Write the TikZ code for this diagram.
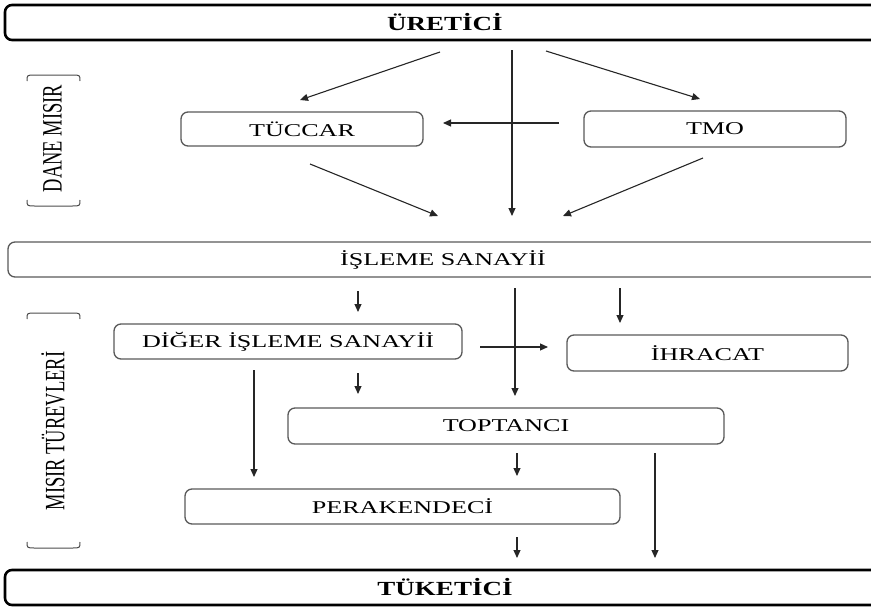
\documentclass[tikz,border=0pt]{standalone}
\usepackage{fontspec}
\setmainfont{Liberation Serif}
\newfontfamily\widefont[FakeStretch=1.45]{Liberation Serif}
\newfontfamily\boldwide[FakeStretch=1.35]{Liberation Serif}
\newfontfamily\narrowfont[FakeStretch=0.66]{Liberation Serif}
\usetikzlibrary{arrows.meta}

\begin{document}
\begin{tikzpicture}
  [x=1pt,y=-1pt,
   box/.style={draw=black!65,line width=1.3pt,rounded corners=7pt,inner sep=0pt,
     font=\widefont\fontsize{18}{20}\selectfont},
   mainbox/.style={box,draw=black,line width=2.6pt,
     font=\boldwide\bfseries\fontsize{20}{22}\selectfont},
   arr/.style={-{Triangle[length=8pt,width=7pt]},line width=1.1pt,draw=black!85},
   brace/.style={draw=black!70,line width=1pt},
   side/.style={rotate=90,inner sep=0pt,font=\narrowfont\fontsize{28}{30}\selectfont}]
  \clip (0,0) rectangle (871,608);

  % kutular
  \node[mainbox,minimum width=880,minimum height=35] (uretici) at (445,22.5)  {ÜRETİCİ};
  \node[box,minimum width=242,minimum height=34]     (tuccar)  at (302,129)   {TÜCCAR};
  \node[box,minimum width=262,minimum height=36]     (tmo)     at (715,129)   {TMO};
  \node[box,minimum width=870,minimum height=35]     (isleme)  at (443,259.5) {İŞLEME SANAYİİ};
  \node[box,minimum width=348,minimum height=35]     (diger)   at (288,341.5) {DİĞER İŞLEME SANAYİİ};
  \node[box,minimum width=281,minimum height=36]     (ihracat) at (707.5,353) {İHRACAT};
  \node[box,minimum width=436,minimum height=36]     (toptan)  at (506,426)   {TOPTANCI};
  \node[box,minimum width=435,minimum height=35]     (perakende) at (402.5,506.5) {PERAKENDECİ};
  \node[mainbox,minimum width=880,minimum height=35] (tuketici) at (445,587.5) {TÜKETİCİ};

  % yan etiketler
  \node[side] (dane)   at (52.5,138.5) {DANE MISIR};
  \node[side] (turev)  at (53,431)     {MISIR TÜREVLERİ};
  \draw[brace] (27,81) .. controls (27,75) .. (35,75) -- (72,75) .. controls (80,75) .. (80,81);
  \draw[brace] (27,200) .. controls (27,206) .. (35,206) -- (72,206) .. controls (80,206) .. (80,200);
  \draw[brace] (27,319) .. controls (27,313) .. (35,313) -- (72,313) .. controls (80,313) .. (80,319);
  \draw[brace] (27,542) .. controls (27,548) .. (35,548) -- (72,548) .. controls (80,548) .. (80,542);

  % ok uclari
  \foreach \n/\x/\y in {u1/440/52, u2/512/50, u3/546/51, tc1/300/100, is1/512/216, tm1/700/99,
      tm2/559/123, tc2/443/123, tc3/310/164, is2/438/216, tm3/703/158, is3/563/216,
      is4/358/291, dg1/358/312, is5/515/288, tp1/515/396, is6/620/288, ih1/620/323,
      dg2/480/347, ih2/548/347, dg3/358/373, tp2/358/394, dg4/254/370, pk1/254/477,
      tp3/517/453, pk2/517/476, tp4/655/453, tk1/655/558, pk3/517/537, tk2/517/558}
    \coordinate (\n) at (\x,\y);

  \foreach \from/\to in {u1/tc1,u2/is1,u3/tm1,tm2/tc2,tc3/is2,tm3/is3,is4/dg1,is5/tp1,
      is6/ih1,dg2/ih2,dg3/tp2,dg4/pk1,tp3/pk2,tp4/tk1,pk3/tk2}
    \draw[arr] (\from) -- (\to);

\end{tikzpicture}
\end{document}
